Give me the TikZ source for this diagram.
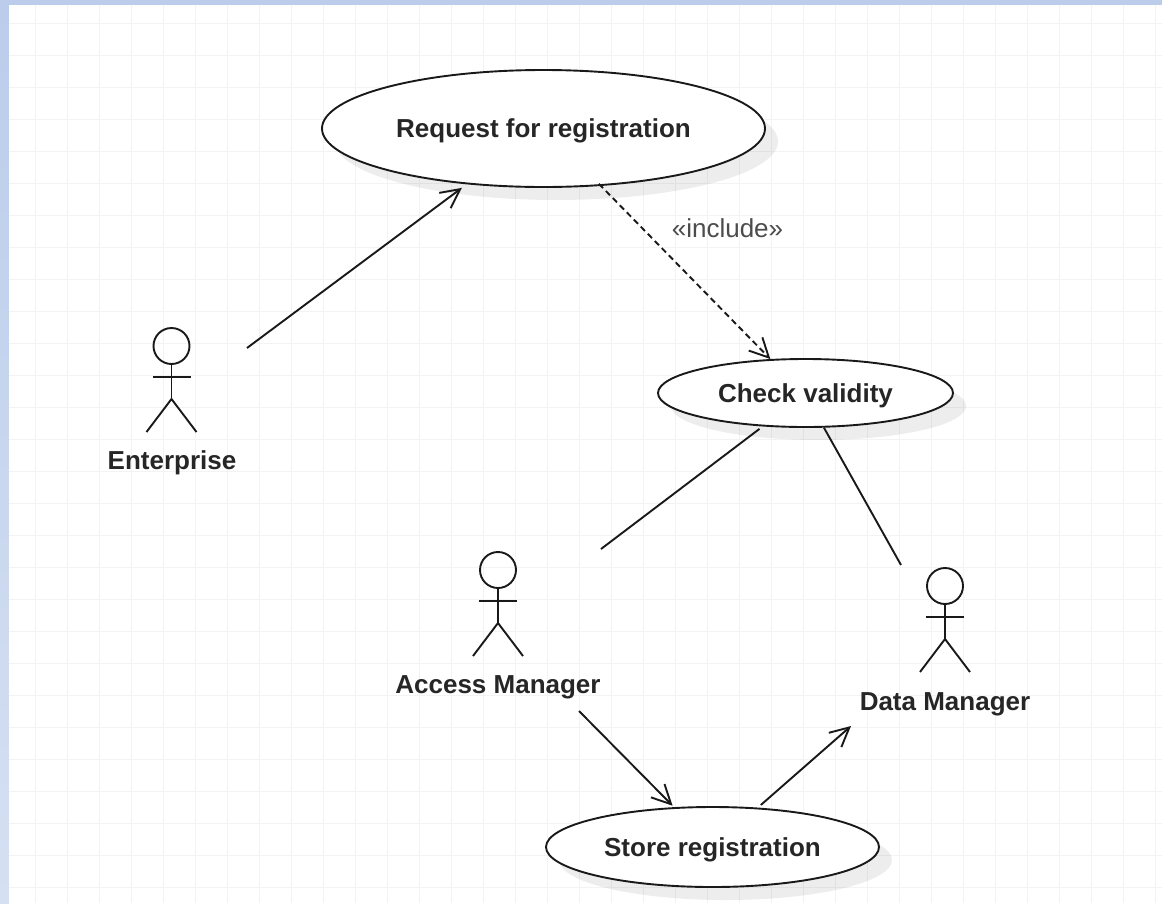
\documentclass[tikz,border=0pt]{standalone}
\usepackage{fontspec}
\setmainfont{Liberation Sans}
\usetikzlibrary{arrows.meta}
\usetikzlibrary{shapes.geometric}
\usetikzlibrary{shadows}
\definecolor{cornice}{HTML}{BBCDEB}
\definecolor{corniceb}{HTML}{D5E0F2}
\definecolor{griglia}{HTML}{F3F3F3}

\begin{document}
\begin{tikzpicture}[x=1pt,y=-1pt,>={Straight Barb[length=19pt,width=19pt,line width=1.9pt]}]
	\tikzset{linea/.style={line width=1.9pt,black!90}}
	\tikzset{usecase/.style={ellipse,draw=black!90,line width=1.9pt,fill=white,inner sep=0pt,
		font=\fontsize{26}{30}\selectfont\bfseries,text=black!85,text depth=0pt,
		drop shadow={shadow xshift=13pt,shadow yshift=-13pt,fill=black,opacity=0.07}}}
	\tikzset{actorname/.style={font=\fontsize{26}{30}\selectfont\bfseries,text=black!85,inner sep=0pt}}
	\tikzset{actor/.pic={
		\draw[linea] (0,0) circle (18);
		\draw[linea] (0,18) -- (0,53);
		\draw[linea] (-19,31) -- (19,31);
		\draw[linea] (-25,86) -- (0,53) -- (25,86);
	}}
	\pgfmathsetmacro{\W}{1162};
	\pgfmathsetmacro{\H}{903};

	\useasboundingbox (0,0) rectangle (\W,\H);
	\fill[cornice] (0,0) rectangle (\W,5);
	\shade[top color=cornice,bottom color=corniceb] (0,0) rectangle (9,\H);
	\fill[white] (9,5) rectangle (\W,\H);
	\foreach \i in {0,...,35} {
		\draw[griglia,line width=1.8pt] ({35.5+32*\i},5) -- ({35.5+32*\i},\H);
	}
	\foreach \i in {0,...,27} {
		\draw[griglia,line width=1.8pt] (9,{23.5+32*\i}) -- (\W,{23.5+32*\i});
	}

	\node[usecase,minimum width=443pt,minimum height=117pt] (request) at (543.5,128.5) {Request for registration};
	\node[usecase,minimum width=295pt,minimum height=68pt] (check) at (805.5,393) {Check validity};
	\node[usecase,minimum width=333pt,minimum height=80pt] (store) at (712.5,847) {Store registration};

	\pic at (171.5,346) {actor};
	\pic at (498,570) {actor};
	\pic at (945,586) {actor};
	\node[actorname] (enterprise) at (172,463) {Enterprise};
	\node[actorname] (access) at (498,687) {Access Manager};
	\node[actorname] (data) at (945,704) {Data Manager};

	\coordinate (e) at (247,348);
	\coordinate (a1) at (601,549);
	\coordinate (a2) at (579,711);
	\coordinate (d1) at (901,565);
	\coordinate (d2) at (851,726);
	\coordinate (inc) at (727.5,228);

	\node[inner sep=0pt,font=\fontsize{26}{30}\selectfont,text=black!70] (include) at (inc) {«include»};

	\draw[linea,->,shorten >=6pt] (e) -- (request.216);
	\draw[linea,->,dash pattern=on 6pt off 4pt,shorten <=-3pt] (request.315) -- (check.136);
	\draw[linea,shorten >=4pt] (a1) -- (check.218);
	\draw[linea] (d1) -- (check.298);
	\draw[linea,->,shorten >=2pt] (a2) -- (store.134);
	\draw[linea,->,shorten <=4pt] (store.41) -- (d2);
\end{tikzpicture}
\end{document}
